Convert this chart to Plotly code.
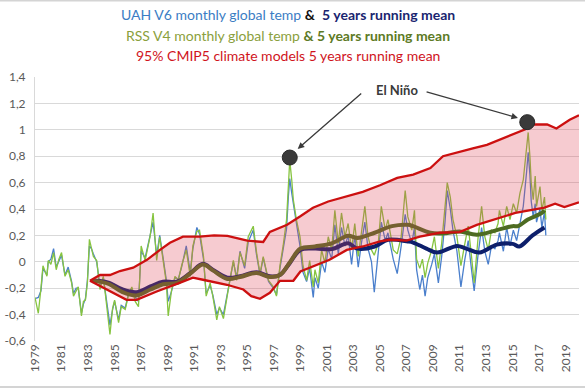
import plotly.graph_objects as go

# ---- monthly-ish series (decimal year, anomaly) ----
t_month = [1979.0, 1979.25, 1979.45, 1979.6, 1979.9, 1980.0, 1980.2, 1980.4, 1980.6, 1980.8,
           1981.0, 1981.26, 1981.5, 1981.76, 1981.9, 1982.1, 1982.26, 1982.5, 1982.65, 1982.8,
           1982.95, 1983.1, 1983.25, 1983.4, 1983.65, 1983.9, 1984.15, 1984.4, 1984.65, 1984.85,
           1985.0, 1985.3, 1985.5, 1985.8, 1986.05, 1986.3, 1986.55, 1986.8, 1987.0, 1987.3,
           1987.67, 1987.9, 1988.17, 1988.4, 1988.67, 1988.9, 1989.04, 1989.3, 1989.55, 1989.8,
           1990.05, 1990.4, 1990.7, 1990.9, 1991.2, 1991.4, 1991.7, 1991.9, 1992.2, 1992.4,
           1992.7, 1992.9, 1993.2, 1993.4, 1993.6, 1993.95, 1994.2, 1994.45, 1994.8, 1995.07,
           1995.45, 1995.7, 1995.96, 1996.2, 1996.4, 1996.6, 1996.96, 1997.2, 1997.46, 1997.7,
           1997.96, 1998.1, 1998.2, 1998.35, 1998.47, 1998.7, 1998.97, 1999.2, 1999.47, 1999.7,
           1999.97, 2000.1, 2000.35, 2000.6, 2000.85, 2001.1, 2001.36, 2001.6, 2001.86, 2002.1,
           2002.36, 2002.6, 2002.86, 2003.1, 2003.36, 2003.6, 2003.86, 2004.1, 2004.36, 2004.57,
           2004.87, 2005.1, 2005.4, 2005.6, 2006.0, 2006.3, 2006.6, 2006.9, 2007.1, 2007.4,
           2007.6, 2007.76, 2008.0, 2008.2, 2008.4, 2008.6, 2008.9, 2009.1, 2009.4, 2009.65,
           2009.9, 2010.07, 2010.3, 2010.5, 2010.8, 2011.1, 2011.4, 2011.65, 2011.9, 2012.1,
           2012.4, 2012.66, 2012.9, 2013.16, 2013.4, 2013.66, 2013.9, 2014.0, 2014.3, 2014.55,
           2014.8, 2015.05, 2015.3, 2015.55, 2015.8, 2016.05, 2016.17, 2016.3, 2016.4, 2016.55,
           2016.7, 2016.8, 2017.06, 2017.2, 2017.4, 2017.5]

rss_monthly = [-0.27, -0.39, -0.2, -0.03, -0.11, 0.01, -0.02, 0.07, -0.06, 0.02,
               0.07, -0.11, -0.06, -0.16, -0.26, -0.22, -0.19, -0.41, -0.3, -0.29,
               -0.16, 0.17, 0.09, 0.04, 0.01, -0.21, -0.11, -0.34, -0.55, -0.35,
               -0.29, -0.46, -0.34, -0.36, -0.25, -0.19, -0.3, -0.34, 0.12, 0.01,
               0.19, 0.37, 0.01, 0.19, -0.01, -0.16, -0.41, -0.21, -0.11, -0.14,
               -0.03, 0.09, -0.11, 0.12, 0.23, 0.24, 0.04, -0.26, -0.16, -0.26,
               -0.44, -0.34, -0.43, -0.3, -0.19, 0.01, -0.14, 0.07, -0.03, 0.19,
               0.27, 0.07, -0.09, 0.04, -0.05, -0.14, -0.19, -0.26, -0.03, 0.12,
               0.32, 0.62, 0.77, 0.62, 0.47, 0.32, 0.19, -0.03, -0.14, 0.01,
               -0.19, -0.06, -0.16, 0.09, -0.01, 0.19, 0.09, 0.39, 0.14, 0.37,
               0.19, 0.29, 0.09, 0.29, 0.04, 0.22, 0.42, 0.19, 0.09, 0.05,
               0.14, 0.42, 0.24, 0.32, 0.09, 0.06, 0.19, 0.54, 0.34, 0.24,
               0.39, 0.02, -0.05, 0.02, -0.12, -0.01, 0.09, 0.19, -0.05, 0.14,
               0.39, 0.6, 0.49, 0.32, 0.19, -0.03, 0.14, 0.27, 0.04, -0.16,
               0.19, 0.42, 0.19, 0.09, 0.24, 0.22, 0.29, 0.39, 0.27, 0.42,
               0.32, 0.44, 0.37, 0.52, 0.62, 0.85, 0.98, 0.8, 0.6, 0.47,
               0.65, 0.42, 0.57, 0.39, 0.49, 0.32]

uah_monthly = [-0.28, -0.27, -0.22, -0.05, -0.1, 0.0, 0.02, 0.1, -0.04, 0.0,
               0.05, -0.1, -0.04, -0.15, -0.24, -0.2, -0.2, -0.39, -0.32, -0.28,
               -0.14, 0.12, 0.1, 0.06, 0.0, -0.19, -0.12, -0.3, -0.48, -0.36,
               -0.3, -0.44, -0.33, -0.35, -0.24, -0.2, -0.27, -0.3, 0.08, 0.03,
               0.2, 0.3, 0.05, 0.2, 0.02, -0.14, -0.3, -0.22, -0.12, -0.13,
               -0.04, 0.12, -0.08, 0.1, 0.26, 0.21, 0.02, -0.24, -0.18, -0.25,
               -0.4, -0.35, -0.4, -0.29, -0.2, 0.0, -0.12, 0.08, -0.05, 0.15,
               0.24, 0.05, -0.1, 0.03, -0.06, -0.15, -0.2, -0.25, -0.05, 0.09,
               0.25, 0.5, 0.63, 0.52, 0.44, 0.3, 0.12, -0.08, -0.15, -0.05,
               -0.27, -0.12, -0.2, 0.0, -0.08, 0.1, 0.02, 0.28, 0.06, 0.26,
               0.12, 0.2, -0.02, 0.2, -0.04, 0.14, 0.3, 0.1, 0.0, -0.23,
               0.06, 0.3, 0.16, 0.22, 0.02, -0.09, 0.12, 0.36, 0.24, 0.14,
               0.26, -0.06, -0.21, -0.1, -0.26, -0.12, -0.02, 0.06, -0.16, 0.04,
               0.3, 0.54, 0.4, 0.24, 0.08, -0.19, 0.02, 0.16, -0.06, -0.22,
               0.06, 0.26, 0.08, -0.02, 0.12, 0.1, 0.16, 0.22, 0.08, 0.26,
               0.12, 0.24, 0.16, 0.3, 0.42, 0.68, 0.83, 0.66, 0.46, 0.34,
               0.44, 0.3, 0.4, 0.26, 0.38, 0.2]

# ---- 5-year running means ----
t_uah_mean = [1983.3, 1983.9, 1984.6, 1985.6, 1986.66, 1987.7, 1988.65, 1989.7, 1990.7, 1991.66,
              1992.4, 1993.5, 1994.45, 1995.7, 1996.7, 1997.46, 1998.2, 1999.0, 2000.1, 2001.36,
              2002.6, 2003.3, 2004.6, 2005.6, 2007.1, 2007.5, 2008.5, 2009.3, 2010.8, 2011.5,
              2012.5, 2013.8, 2015.0, 2015.5, 2016.5, 2017.4]
uah_mean = [-0.145, -0.145, -0.16, -0.21, -0.23, -0.187, -0.15, -0.15, -0.086, -0.015,
            -0.06, -0.12, -0.11, -0.08, -0.11, -0.10, -0.01, 0.09, 0.10, 0.096,
            0.14, 0.10, 0.116, 0.167, 0.154, 0.146, 0.10, 0.07, 0.12, 0.10,
            0.07, 0.13, 0.136, 0.116, 0.20, 0.26]

t_rss_mean = [1983.3, 1983.9, 1984.6, 1985.6, 1986.66, 1987.7, 1988.65, 1989.7, 1990.7, 1991.66,
              1992.4, 1993.5, 1994.45, 1995.7, 1996.7, 1997.46, 1998.2, 1999.0, 2000.1, 2001.36,
              2002.6, 2003.3, 2004.6, 2005.9, 2007.1, 2007.5, 2008.8, 2010.0, 2011.0, 2012.3,
              2013.8, 2015.0, 2015.4, 2016.15, 2017.2, 2017.4]
rss_mean = [-0.145, -0.15, -0.17, -0.23, -0.255, -0.21, -0.17, -0.16, -0.09, -0.02,
            -0.065, -0.13, -0.115, -0.085, -0.115, -0.10, -0.005, 0.10, 0.116, 0.14,
            0.197, 0.18, 0.22, 0.27, 0.28, 0.27, 0.22, 0.217, 0.23, 0.205,
            0.24, 0.27, 0.27, 0.32, 0.37, 0.39]

# ---- CMIP5 95% envelope ----
t_upper = [1983.14, 1983.9, 1984.65, 1985.4, 1986.4, 1987.44, 1988.42, 1989.17, 1990.15, 1991.4,
           1992.5, 1993.5, 1995.0, 1996.2, 1996.7, 1998.0, 1998.97, 1999.95, 2001.1, 2002.5,
           2003.7, 2005.0, 2006.3, 2007.5, 2008.8, 2009.75, 2010.8, 2012.0, 2013.06, 2014.0,
           2015.0, 2016.1, 2016.5, 2017.6, 2018.3, 2018.8, 2019.3, 2020.0]
cmip_upper = [-0.144, -0.10, -0.10, -0.07, -0.045, 0.015, 0.09, 0.144, 0.19, 0.19,
              0.2, 0.197, 0.16, 0.15, 0.227, 0.28, 0.343, 0.41, 0.457, 0.495,
              0.53, 0.58, 0.636, 0.66, 0.71, 0.80, 0.83, 0.86, 0.886, 0.924,
              0.96, 1.01, 1.04, 1.04, 1.01, 1.04, 1.076, 1.11]

t_lower = [1983.14, 1984.65, 1985.9, 1986.66, 1988.17, 1989.9, 1990.9, 1991.66, 1993.47, 1994.7,
           1995.3, 1995.96, 1996.7, 1997.46, 1998.47, 1999.0, 1999.97, 2001.2, 2002.5, 2003.7,
           2005.0, 2005.75, 2007.0, 2008.0, 2009.5, 2011.0, 2012.3, 2014.0, 2015.2, 2017.4,
           2018.2, 2018.9, 2020.0]
cmip_lower = [-0.144, -0.225, -0.288, -0.288, -0.225, -0.16, -0.12, -0.136, -0.174, -0.21,
              -0.26, -0.28, -0.235, -0.144, -0.144, -0.073, -0.035, 0.015, 0.09, 0.116,
              0.154, 0.167, 0.16, 0.19, 0.22, 0.225, 0.28, 0.33, 0.37, 0.41,
              0.44, 0.414, 0.45]

# ---- El Niño markers ----
elnino_years = [1998.2, 2016.1]
elnino_vals = [0.79, 1.058]

# ---- axis ticks ----
y_ticks = [-0.6, -0.4, -0.2, 0, 0.2, 0.4, 0.6, 0.8, 1.0, 1.2, 1.4]
y_labels = ["-0,6", "-0,4", "-0,2", "0", "0,2", "0,4", "0,6", "0,8", "1", "1,2", "1,4"]
x_ticks = list(range(1979, 2020, 2))
x_labels = [str(y) for y in x_ticks]

FONT = "Lato"
fig = go.Figure()

fig.add_trace(go.Scatter(x=t_month, y=uah_monthly, mode="lines",
                         line=dict(color="#4a7fcc", width=1.3), hoverinfo="skip"))
fig.add_trace(go.Scatter(x=t_month, y=rss_monthly, mode="lines",
                         line=dict(color="#86c440", width=1.3), hoverinfo="skip"))
fig.add_trace(go.Scatter(x=t_uah_mean, y=uah_mean, mode="lines",
                         line=dict(color="#0d1f6b", width=4, shape="spline"), hoverinfo="skip"))
fig.add_trace(go.Scatter(x=t_rss_mean, y=rss_mean, mode="lines",
                         line=dict(color="#4d6b22", width=4, shape="spline"), hoverinfo="skip"))

# translucent envelope fill drawn above the series
poly_x = t_upper + t_lower[::-1]
poly_y = cmip_upper + cmip_lower[::-1]
fig.add_trace(go.Scatter(x=poly_x, y=poly_y, mode="lines", fill="toself",
                         fillcolor="rgba(222,70,85,0.28)", line=dict(width=0),
                         hoverinfo="skip"))
fig.add_trace(go.Scatter(x=t_upper, y=cmip_upper, mode="lines",
                         line=dict(color="#cc1010", width=2.3), hoverinfo="skip"))
fig.add_trace(go.Scatter(x=t_lower, y=cmip_lower, mode="lines",
                         line=dict(color="#cc1010", width=2.3), hoverinfo="skip"))

fig.add_trace(go.Scatter(x=elnino_years, y=elnino_vals, mode="markers",
                         marker=dict(color="#3a3a3a", size=15, line=dict(color="#2a2a2a", width=1)),
                         hoverinfo="skip"))

# El Niño label and arrows
fig.add_annotation(x=2006.26, y=1.303, xref="x", yref="y", text="<b>El Niño</b>",
                   showarrow=False, font=dict(family=FONT, size=13, color="#3a3a3a"))
fig.add_annotation(x=1998.8, y=0.855, ax=2003.7, ay=1.285, xref="x", yref="y",
                   axref="x", ayref="y", text="", showarrow=True, arrowhead=2,
                   arrowsize=1, arrowwidth=1.3, arrowcolor="#3a3a3a")
fig.add_annotation(x=2015.4, y=1.09, ax=2008.4, ay=1.29, xref="x", yref="y",
                   axref="x", ayref="y", text="", showarrow=True, arrowhead=2,
                   arrowsize=1, arrowwidth=1.3, arrowcolor="#3a3a3a")

# three-line coloured title
title_lines = [
    ("<span style='color:#3b7dc4'>UAH V6 monthly global temp</span> "
     "<span style='color:#111111'><b>&</b></span>  "
     "<span style='color:#1a2570'><b>5 years running mean</b></span>", 1.235),
    ("<span style='color:#8aa03c'>RSS V4 monthly global temp</span> "
     "<span style='color:#5d7a25'><b>& 5 years running mean</b></span>", 1.159),
    ("<span style='color:#d0141c'>95% CMIP5 climate models 5 years running mean</span>", 1.083),
]
for txt, yy in title_lines:
    fig.add_annotation(x=0.465, y=yy, xref="paper", yref="paper", text=txt,
                       showarrow=False, font=dict(family=FONT, size=14),
                       xanchor="center", yanchor="middle")

# faint frame lines at the top and bottom of the picture
fig.add_shape(type="line", xref="paper", yref="paper", x0=-0.07, x1=1.02,
              y0=1.2897, y1=1.2897, line=dict(color="#d4d4d4", width=2))
fig.add_shape(type="line", xref="paper", yref="paper", x0=-0.07, x1=1.02,
              y0=-0.174, y1=-0.174, line=dict(color="#d4d4d4", width=2))

fig.update_layout(
    width=585, height=390,
    margin=dict(l=35, r=6, t=77, b=49),
    paper_bgcolor="white", plot_bgcolor="white",
    showlegend=False,
    xaxis=dict(range=[1979, 2020], tickmode="array", tickvals=x_ticks, ticktext=x_labels,
               tickangle=-90, showgrid=False, zeroline=False, showline=False,
               tickfont=dict(family=FONT, size=12, color="#595959"), ticks="",
               automargin=False),
    yaxis=dict(range=[-0.6, 1.4], tickmode="array", tickvals=y_ticks, ticktext=y_labels,
               showgrid=True, gridcolor="#d9d9d9", gridwidth=1, zeroline=False,
               showline=True, linecolor="#d9d9d9", linewidth=1,
               tickfont=dict(family=FONT, size=12, color="#595959"), ticks="",
               ticklabelstandoff=6, automargin=False),
)

# remove the browser's default page margin so the chart sits at the window origin
fig.write_html("out.html", config={"displayModeBar": False},
               post_script="document.body.style.margin='0';document.body.style.padding='0';")
